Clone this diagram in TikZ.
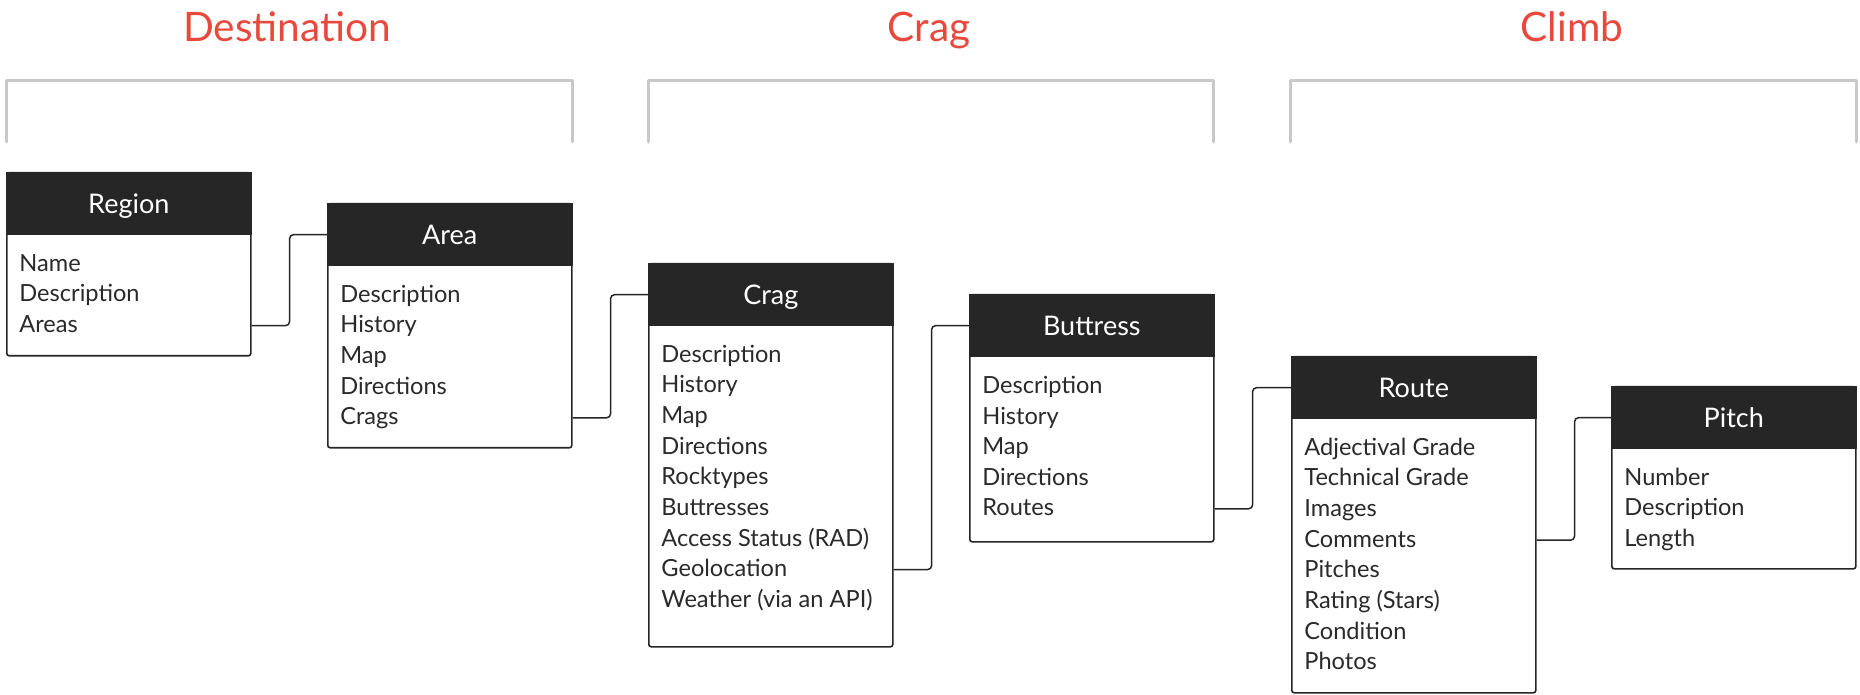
\documentclass[tikz,border=0pt]{standalone}
\usepackage{fontspec}
\setmainfont{Lato}
\definecolor{hdr}{HTML}{262626}
\definecolor{accent}{HTML}{E8493C}
\definecolor{brk}{HTML}{C8C8C8}
\definecolor{txt}{HTML}{2A2A2A}
\newcommand\entitybox[6]{%
  \node[bodybox, minimum height={(#4-#3)*0.5pt}] (#1) at (#2,#3) {};
  \node[headbox] (#1-head) at (#2,#3) {#5};
  \foreach \t [count=\i] in {#6}
    \node[linetext] (#1-l\i) at (#2+13, #3+99.4+\i*30.6-30.6) {\t};
}
\begin{document}
\begin{tikzpicture}[x=0.5pt,y=-0.5pt,
  bodybox/.style={draw=hdr, line width=0.8pt, fill=white, rounded corners=1.2pt,
    minimum width=122pt, anchor=north west, inner sep=0pt},
  headbox/.style={fill=hdr, draw=hdr, line width=0.8pt, text=white, minimum width=122pt,
    minimum height=30.85pt, anchor=north west, inner sep=0pt,
    text height=9.5pt, text depth=0pt, font=\fontsize{13.5}{16}\selectfont},
  linetext/.style={anchor=base west, inner sep=0pt, text=txt,
    text height=7pt, text depth=0pt, font=\fontsize{11.8}{13}\selectfont},
  sectitle/.style={anchor=base, inner sep=0pt, text=accent, font=\fontsize{20.3}{24}\selectfont},
  bracket/.style={draw=brk, line width=1.5pt, line cap=round, line join=round},
  conn/.style={draw=hdr, line width=0.75pt, rounded corners=2pt}]
\useasboundingbox (0,0) rectangle (1860,695);

% section titles
\node[sectitle] (t-dest) at (287,42) {Destination};
\node[sectitle] (t-crag) at (929,42) {Crag};
\node[sectitle] (t-climb) at (1572,42) {Climb};

% brackets
\draw[bracket] (6,142) -- (6,81) -- (572,81) -- (572,142);
\draw[bracket] (648,142) -- (648,81) -- (1213,81) -- (1213,142);
\draw[bracket] (1290,142) -- (1290,81) -- (1856,81) -- (1856,142);

% entities
\entitybox{region}{6}{172}{355}{Region}{Name,Description,Areas}
\entitybox{area}{327}{203}{447}{Area}{Description,History,Map,Directions,Crags}
\entitybox{crag}{648}{263}{646}{Crag}{Description,History,Map,Directions,Rocktypes,Buttresses,Access Status (RAD),Geolocation,Weather (via an API)}
\entitybox{buttress}{969}{294}{541}{Buttress}{Description,History,Map,Directions,Routes}
\entitybox{route}{1291}{356}{692}{Route}{Adjectival Grade,Technical Grade,Images,Comments,Pitches,Rating (Stars),Condition,Photos}
\entitybox{pitch}{1611}{386}{568}{Pitch}{Number,Description,Length}

% connectors
\draw[conn] (region.east |- region-l3.center) -- ++(38,0) |- (area-head.west);
\draw[conn] (area.east |- area-l5.center) -- ++(38,0) |- (crag-head.west);
\draw[conn] (crag.east |- crag-l8.center) -- ++(38,0) |- (buttress-head.west);
\draw[conn] (buttress.east |- buttress-l5.center) -- ++(38,0) |- (route-head.west);
\draw[conn] (route.east |- route-l4.center) -- ++(38,0) |- (pitch-head.west);
\end{tikzpicture}
\end{document}
